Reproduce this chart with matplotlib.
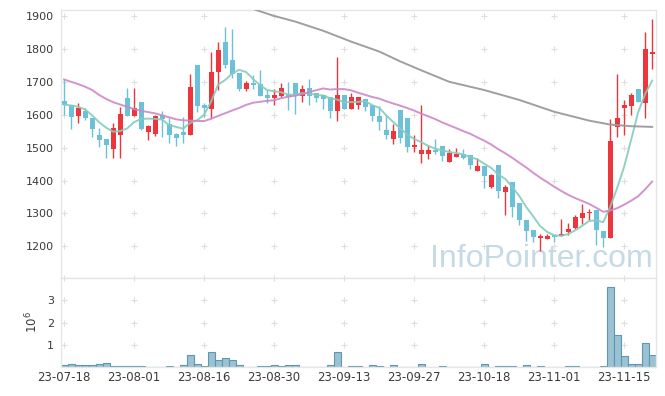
import numpy as np
import pandas as pd
import matplotlib
matplotlib.use("Agg")
import matplotlib.pyplot as plt

# daily candles (trading-day index 0..84), prices in won
opens = [1642, 1628, 1597, 1611, 1590, 1538, 1526, 1497, 1537, 1651,
         1597, 1638, 1548, 1540, 1599, 1572, 1540, 1547, 1539, 1751,
         1628, 1618, 1731, 1821, 1765, 1727, 1679, 1696, 1693, 1659,
         1652, 1658, 1660, 1696, 1658, 1680, 1667, 1661, 1653, 1612,
         1659, 1618, 1628, 1647, 1630, 1597, 1554, 1525, 1613, 1589,
         1503, 1482, 1482, 1493, 1505, 1455, 1472, 1481, 1477, 1430,
         1444, 1381, 1447, 1366, 1396, 1331, 1280, 1250, 1226, 1222,
         1234, 1231, 1243, 1255, 1285, 1300, 1310, 1248, 1224, 1564,
         1621, 1626, 1679, 1637, 1783]
highs = [1708, 1630, 1635, 1620, 1590, 1559, 1526, 1574, 1623, 1680,
         1680, 1638, 1569, 1599, 1611, 1589, 1545, 1592, 1724, 1751,
         1635, 1790, 1822, 1866, 1860, 1727, 1702, 1721, 1735, 1675,
         1677, 1697, 1700, 1696, 1691, 1707, 1667, 1661, 1653, 1774,
         1659, 1667, 1653, 1647, 1630, 1626, 1599, 1572, 1613, 1589,
         1538, 1628, 1508, 1525, 1505, 1496, 1499, 1495, 1477, 1470,
         1444, 1420, 1447, 1386, 1396, 1331, 1280, 1250, 1239, 1239,
         1234, 1282, 1272, 1295, 1329, 1315, 1310, 1248, 1586, 1724,
         1645, 1665, 1679, 1850, 1890]
lows = [1598, 1558, 1576, 1584, 1531, 1501, 1470, 1470, 1470, 1597,
        1597, 1555, 1523, 1536, 1533, 1513, 1505, 1513, 1539, 1609,
        1592, 1589, 1675, 1741, 1713, 1673, 1673, 1677, 1658, 1637,
        1628, 1655, 1614, 1601, 1638, 1631, 1640, 1618, 1589, 1580,
        1618, 1616, 1618, 1612, 1582, 1554, 1525, 1511, 1513, 1488,
        1488, 1452, 1464, 1481, 1458, 1455, 1472, 1464, 1434, 1430,
        1376, 1378, 1346, 1295, 1290, 1265, 1217, 1214, 1187, 1222,
        1214, 1231, 1234, 1252, 1268, 1280, 1204, 1199, 1224, 1531,
        1538, 1599, 1640, 1589, 1738]
closes = [1628, 1592, 1621, 1591, 1558, 1524, 1509, 1560, 1601, 1597,
          1621, 1556, 1566, 1596, 1586, 1537, 1530, 1539, 1683, 1627,
          1621, 1730, 1797, 1752, 1725, 1678, 1696, 1690, 1658, 1652,
          1660, 1681, 1653, 1658, 1677, 1658, 1652, 1649, 1612, 1659,
          1618, 1653, 1653, 1624, 1597, 1579, 1539, 1550, 1530, 1503,
          1508, 1493, 1493, 1488, 1476, 1483, 1480, 1469, 1448, 1444,
          1415, 1417, 1369, 1381, 1321, 1280, 1248, 1227, 1232, 1232,
          1230, 1239, 1254, 1289, 1301, 1303, 1250, 1224, 1520, 1590,
          1628, 1660, 1640, 1799, 1791]
# volume in millions of shares
volumes = [0.07, 0.15, 0.10, 0.07, 0.10, 0.15, 0.19, 0.03, 0.06, 0.06,
           0.06, 0.06, 0.02, 0.005, 0.02, 0.06, 0.02, 0.10, 0.55, 0.15,
           0.06, 0.68, 0.33, 0.42, 0.33, 0.10, 0.02, 0.02, 0.06, 0.06,
           0.10, 0.06, 0.10, 0.10, 0.02, 0.02, 0.02, 0.02, 0.10, 0.68,
           0.02, 0.06, 0.06, 0.02, 0.10, 0.06, 0.02, 0.10, 0.0, 0.02,
           0.0, 0.15, 0.02, 0.02, 0.06, 0.0, 0.0, 0.0, 0.02, 0.0,
           0.15, 0.02, 0.06, 0.06, 0.06, 0.02, 0.10, 0.02, 0.06, 0.0,
           0.02, 0.02, 0.06, 0.06, 0.02, 0.02, 0.02, 0.06, 3.60, 1.46,
           0.51, 0.15, 0.15, 1.10, 0.55]

tick_labels = ["23-07-18", "23-08-01", "23-08-16", "23-08-30", "23-09-13",
               "23-09-27", "23-10-18", "23-11-01", "23-11-15"]

# moving-average values before the window fills
ma5_head = [1631, 1628, 1624, 1616]
ma20_head = [1707, 1700, 1693, 1685, 1675, 1660, 1648, 1638, 1631, 1624,
             1617, 1612, 1608, 1604, 1598, 1592, 1586, 1583, 1582]
ma60_days = [26, 28, 30, 33, 37, 41, 45, 48, 51, 55, 60, 65, 70, 75, 78, 81, 84]
ma60_vals = [1928, 1914, 1900, 1883, 1855, 1822, 1792, 1762, 1735, 1700,
             1675, 1645, 1609, 1582, 1570, 1565, 1563]

UP = "#ee353b"
DOWN = "#6cc0d8"
EDGE = "#e6e6e6"
TXT = "#3a3a3a"

o = np.array(opens, dtype=float)
h = np.array(highs, dtype=float)
l = np.array(lows, dtype=float)
c = np.array(closes, dtype=float)
days = np.arange(len(c))

ma5 = pd.Series(c).rolling(5).mean().to_numpy()
ma5[:len(ma5_head)] = ma5_head
ma20 = pd.Series(c).rolling(20).mean().to_numpy()
ma20[:len(ma20_head)] = ma20_head

fig = plt.figure(figsize=(6.65, 3.96), dpi=100)
ax = fig.add_axes([0.0917, 0.298, 0.8948, 0.6767])
axv = fig.add_axes([0.0917, 0.0732, 0.8948, 0.2248], sharex=ax)

# grid is drawn as small crosses
gx, gy = np.meshgrid(np.arange(0, 85, 10), np.arange(1200, 2000, 100))
ax.plot(gx.ravel(), gy.ravel(), "+", color="#dedede", ms=4, mew=0.8, zorder=0)
gx2, gy2 = np.meshgrid(np.arange(0, 85, 10), [1, 2, 3, 4])
axv.plot(gx2.ravel(), gy2.ravel(), "+", color="#dedede", ms=4, mew=0.8, zorder=0,
         clip_on=False)

# candles
colors = np.where(c >= o, UP, DOWN)
ax.vlines(days, l, h, colors=colors, linewidth=1.0, zorder=2)
body_low = np.minimum(o, c)
body_h = np.maximum(np.abs(c - o), 3)
ax.bar(days, body_h, bottom=body_low, width=0.68, color=colors, linewidth=0, zorder=3)

# moving averages
ax.plot(days, ma5, color="#86cbbd", lw=1.4, alpha=0.9, zorder=4)
ax.plot(days, ma20, color="#cc88c6", lw=1.4, alpha=0.9, zorder=4)
ax.plot(ma60_days, ma60_vals, color="#9a9a9a", lw=1.4, alpha=0.95, zorder=4)

ax.set_xlim(-0.45, 84.55)
ax.set_ylim(1104, 1918)
ax.set_yticks(range(1200, 2000, 100))
ax.tick_params(axis="y", length=0, pad=5, labelsize=8, labelcolor=TXT)
ax.tick_params(axis="x", length=0, labelbottom=False)

# volume
axv.bar(days, volumes, width=1.0, color="#9bc2d3", edgecolor="#5f97b0",
        linewidth=0.8, zorder=2)
axv.set_ylim(0, 4)
axv.set_yticks([1, 2, 3])
axv.set_xticks(range(0, 85, 10))
axv.set_xticklabels(tick_labels)
axv.tick_params(axis="y", length=0, pad=5, labelsize=8, labelcolor=TXT)
axv.tick_params(axis="x", length=0, pad=3, labelsize=8.5, labelcolor=TXT)
fig.text(0.048, 0.187, r"$10^6$", rotation=90, fontsize=8.5, color=TXT,
         ha="center", va="center")

for a in (ax, axv):
    for s in a.spines.values():
        s.set_color(EDGE)
        s.set_linewidth(1.0)

ax.text(0.647, 0.326, "InfoPointer.com", transform=fig.transFigure,
        fontsize=23, family="Liberation Sans", color="#c6dae5",
        ha="left", va="baseline", zorder=1)

fig.savefig("out.png", dpi=100)
